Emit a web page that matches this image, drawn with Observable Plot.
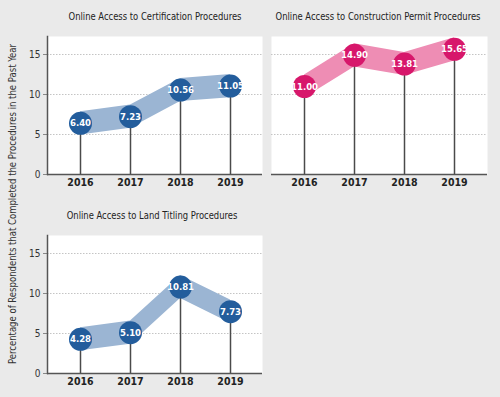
<!DOCTYPE html>
<html><head><meta charset="utf-8">
<script src="https://cdn.jsdelivr.net/npm/d3@7"></script>
<script src="https://cdn.jsdelivr.net/npm/@observablehq/plot@0.6"></script>
<style>
body{margin:0;background:#eaeaea;}
#root{position:relative;width:500px;height:397px;background:#eaeaea;font-family:"DejaVu Sans Condensed","Liberation Sans",sans-serif;overflow:hidden}
.title{position:absolute;font-size:11px;color:#222;text-align:center;white-space:nowrap;transform:translateX(-50%) scaleX(0.85)}
.panel{position:absolute}
#ylab{position:absolute;left:12px;top:204px;font-size:11px;color:#333;white-space:nowrap;transform:translate(-50%,-50%) rotate(-90deg) scaleX(0.86)}
</style>
</head><body>
<div id="root"></div>
<script>
const years = ["2016", "2017", "2018", "2019"];
const certification = [6.40, 7.23, 10.56, 11.05];
const construction = [11.00, 14.90, 13.81, 15.65];
const landTitling = [4.28, 5.10, 10.81, 7.73];
const panelTitles = [
  "Online Access to Certification Procedures",
  "Online Access to Construction Permit Procedures",
  "Online Access to Land Titling Procedures"
];
const yTicks = [0, 5, 10, 15];
const yAxisLabel = "Percentage of Respondents that Completed the Procedures in the Past Year";

const FONT = '"DejaVu Sans Condensed","Liberation Sans",sans-serif';
const root = document.getElementById("root");

function panel(o) {
  const data = years.map((y, i) => ({year: y, v: o.values[i]}));
  const chart = Plot.plot({
    width: o.width, height: o.height,
    marginLeft: o.mL, marginRight: o.mR, marginTop: o.mT, marginBottom: o.mB,
    style: {background: "transparent", fontFamily: FONT, overflow: "visible"},
    x: {type: "point", domain: years, padding: 0.64, axis: null},
    y: {domain: [0, 17.25], axis: null},
    marks: [
      Plot.frame({fill: "white", stroke: null}),
      Plot.gridY(yTicks.filter(t => t > 0), {stroke: "#c4c4c4", strokeOpacity: 1, strokeDasharray: "1.5,1.5"}),
      o.showY ? Plot.axisY({ticks: yTicks, tickSize: 4, tickPadding: 3, fontSize: 10, color: "#333", stroke: "#888", label: null}) : null,
      o.showY ? Plot.frame({anchor: "left", stroke: "#555", strokeWidth: 1.5}) : null,
      Plot.ruleY([0], {stroke: "#555", strokeWidth: 1.5}),
      Plot.areaY(data, {x: "year", y1: d => d.v - 1.45, y2: d => d.v + 1.45, fill: o.band}),
      Plot.ruleX(data, {x: "year", y1: 0, y2: "v", stroke: "#4a4a4a", strokeWidth: 1.5}),
      Plot.dot(data, {x: "year", y: "v", r: 11.5, fill: o.color}),
      Plot.text(data, {x: "year", y: "v", text: d => d.v.toFixed(2), fill: "white", fontWeight: "bold", fontSize: 9.5}),
      Plot.axisX({tickSize: 0, tickPadding: 4, fontSize: 10.5, fontWeight: 600, color: "#222", label: null})
    ]
  });
  chart.classList.add("panel");
  chart.style.left = o.left + "px";
  chart.style.top = o.top + "px";
  root.appendChild(chart);
  const t = document.createElement("div");
  t.className = "title";
  t.textContent = o.title;
  t.style.left = o.titleX + "px";
  t.style.top = o.titleY + "px";
  root.appendChild(t);
}

panel({values: certification, color: "#235d9c", band: "#9bb5d3", title: panelTitles[0],
  left: 0, top: 0, width: 265, height: 200, mL: 47, mR: 3, mT: 36, mB: 26, showY: true, titleX: 155, titleY: 10});
panel({values: construction, color: "#d7176b", band: "#ee8db4", title: panelTitles[1],
  left: 265, top: 0, width: 235, height: 200, mL: 6, mR: 13, mT: 36, mB: 26, showY: false, titleX: 378, titleY: 10});
panel({values: landTitling, color: "#235d9c", band: "#9bb5d3", title: panelTitles[2],
  left: 0, top: 200, width: 265, height: 197, mL: 47, mR: 3, mT: 35, mB: 24, showY: true, titleX: 152, titleY: 209});

const yl = document.createElement("div");
yl.id = "ylab";
yl.textContent = yAxisLabel;
root.appendChild(yl);
</script>
</body></html>
